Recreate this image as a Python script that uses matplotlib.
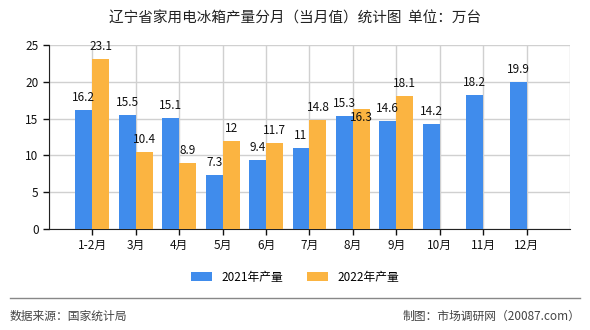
import matplotlib
matplotlib.use("Agg")
import matplotlib.pyplot as plt
import numpy as np

plt.rcParams['font.family'] = ['Noto Sans CJK SC', 'DejaVu Sans']

months = ['1-2月', '3月', '4月', '5月', '6月', '7月', '8月', '9月', '10月', '11月', '12月']
y2021 = [16.2, 15.5, 15.1, 7.3, 9.4, 11, 15.3, 14.6, 14.2, 18.2, 19.9]
y2022 = [23.1, 10.4, 8.9, 12, 11.7, 14.8, 16.3, 18.1]

blue = '#408cec'
orange = '#fbb441'

fig = plt.figure(figsize=(5.9, 3.3), dpi=100)
ax = fig.add_axes([0.083, 0.306, 0.883, 0.558])

x = np.arange(len(months))
w = 0.39
ax.bar(x[:len(y2021)] - w / 2, y2021, w, color=blue, label='2021年产量', zorder=3)
ax.bar(x[:len(y2022)] + w / 2, y2022, w, color=orange, label='2022年产量', zorder=3)

# value labels, 8月 of 2022 sits inside the bar top like the original
for i, v in enumerate(y2021):
    ax.annotate(f'{v:g}', (i - w / 2, v), xytext=(0, 9), textcoords='offset points',
                ha='center', va='center', fontsize=8.5, color='#111', zorder=4)
for i, v in enumerate(y2022):
    dy = -6 if months[i] == '8月' else 9
    ax.annotate(f'{v:g}', (i + w / 2, v), xytext=(0, dy), textcoords='offset points',
                ha='center', va='center', fontsize=8.5, color='#111', zorder=4)

ax.set_xlim(-1, 11)
ax.set_ylim(0, 25)
ax.set_yticks([0, 5, 10, 15, 20, 25])
ax.set_xticks(x)
ax.set_xticklabels(months)
ax.set_xticks(np.arange(-1, 12), minor=True)
ax.tick_params(axis='x', which='minor', length=0)
ax.tick_params(axis='both', labelsize=8.5, colors='#111', length=4, width=1)
ax.grid(True, color='#d0d0d0', linewidth=1, zorder=0)
ax.grid(True, which='minor', axis='x', color='#d0d0d0', linewidth=1, zorder=0)
for s in ['top', 'right']:
    ax.spines[s].set_visible(False)
ax.spines['left'].set_color('#222')
ax.spines['bottom'].set_color('#222')

fig.text(0.5, 0.945, '辽宁省家用电冰箱产量分月（当月值）统计图  单位：万台',
         ha='center', va='center', fontsize=10.5, color='#222')

fig.legend(loc='center', bbox_to_anchor=(0.5, 0.16), ncol=2, frameon=False,
           fontsize=8.5, handlelength=1.8, handleheight=0.8, columnspacing=2.0)

fig.add_artist(plt.Line2D([0.017, 0.983], [0.097, 0.097], color='#888', linewidth=1))
fig.text(0.017, 0.042, '数据来源：国家统计局', ha='left', va='center', fontsize=8.5, color='#444')
fig.text(0.983, 0.042, '制图：市场调研网（20087.com）', ha='right', va='center', fontsize=8.5, color='#444')

fig.savefig('out.png', dpi=100)
